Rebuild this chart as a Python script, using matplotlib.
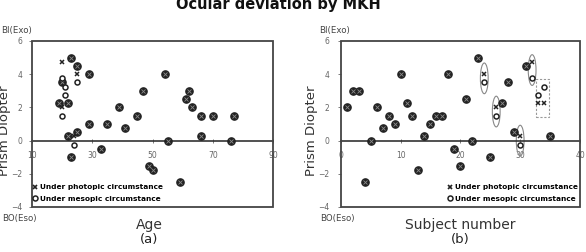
import numpy as np
import matplotlib.pyplot as plt
from matplotlib.lines import Line2D
from matplotlib.patches import Ellipse, Rectangle

# (a) deviation vs age
age_both = [23, 25, 29, 54, 47, 62, 61, 63, 39, 45, 66, 70, 77, 29, 35, 41,
            25, 22, 66, 55, 76, 33, 23, 49, 50, 59, 19, 22, 20]
dev_both_a = [5, 4.5, 4, 4, 3, 3, 2.5, 2, 2, 1.5, 1.5, 1.5, 1.5, 1, 1, 0.75,
              0.5, 0.25, 0.25, 0, 0, -0.5, -1, -1.5, -1.75, -2.5, 2.25, 2.25, 3.5]
age_photo = [20, 25, 20, 24]
photo_a = [4.75, 4, 2, 0.25]
age_meso = [20, 21, 21, 20, 25, 24]
meso_a = [3.75, 3.25, 2.75, 1.5, 3.5, -0.25]

# (b) deviation vs subject number
subj_both = [1, 2, 3, 4, 5, 6, 7, 8, 9, 10, 11, 12, 13, 14, 15, 16, 17, 18,
             19, 20, 21, 22, 23, 25, 27, 28, 29, 31, 35]
dev_both_b = [2, 3, 3, -2.5, 0, 2, 0.75, 1.5, 1, 4, 2.25, 1.5, -1.75, 0.25, 1,
              1.5, 1.5, 4, -0.5, -1.5, 2.5, 0, 5, -1, 2.25, 3.5, 0.5, 4.5, 0.25]
subj_pair = [24, 26, 30, 32, 33, 34]
photo_b = [4, 2, 0.25, 4.75, 2.25, 2.25]
meso_b = [3.5, 1.5, -0.25, 3.75, 2.75, 3.25]
circled = [24, 26, 30, 32]   # subjects marked with an ellipse
boxed = [33, 34]             # subjects inside the dashed box

W, H = 586, 252
fig = plt.figure(figsize=(W / 100, H / 100), dpi=100)

dark = '#222222'
frame = '#444444'
tick_col = '#666666'


def style_axes(ax, xlim, xticks, ypad):
    ax.set_xlim(*xlim)
    ax.set_ylim(-4, 6)
    ax.set_yticks([-4, -2, 0, 2, 4, 6])
    ax.set_xticks(xticks)
    ax.spines['bottom'].set_position(('data', 0))
    ax.spines['top'].set_visible(False)
    ax.spines['right'].set_visible(False)
    ax.spines['left'].set_visible(False)
    ax.spines['bottom'].set_color('#333333')
    ax.spines['bottom'].set_linewidth(1.2)
    ax.add_patch(Rectangle((0, 0), 1, 1, transform=ax.transAxes, fill=False,
                           ec=frame, lw=1.3, clip_on=False, zorder=5))
    ax.tick_params(axis='both', labelsize=5.5, colors=tick_col, width=0.6)
    ax.tick_params(axis='x', direction='inout', length=3, pad=6)
    ax.tick_params(axis='y', direction='out', length=2, pad=ypad)


def draw_points(ax, xb, yb, xp, yp, xm, ym):
    ax.plot(xb, yb, 'o', ms=5.2, color=dark, mec=dark, zorder=3)
    ax.plot(xb, yb, 'x', ms=2.8, color='#8a8a8a', mew=0.6, zorder=4)
    ax.plot(xp, yp, 'x', ms=3.5, color=dark, mew=1.1, zorder=4)
    ax.plot(xm, ym, 'o', ms=3.6, mfc='white', mec=dark, mew=1.1, zorder=4)


handles = [Line2D([], [], marker='x', ls='none', color=dark, ms=3.5, mew=1.2),
           Line2D([], [], marker='o', ls='none', mfc='white', mec=dark, ms=3.6, mew=1.1)]
labels = ['Under photopic circumstance', 'Under mesopic circumstance']
leg_kw = dict(frameon=False, prop={'size': 5.3, 'weight': 'bold'}, handlelength=0.6,
              handletextpad=0.3, labelspacing=0.75, borderpad=0, borderaxespad=0)

# panel (a)
ax1 = fig.add_axes([32 / W, 1 - 207 / H, 241 / W, 166 / H])
style_axes(ax1, (10, 90), [10, 30, 50, 70, 90], 5)
draw_points(ax1, age_both, dev_both_a, age_photo, photo_a, age_meso, meso_a)
ax1.legend(handles, labels, loc='lower left', bbox_to_anchor=(0.004, 0.03), **leg_kw)

# panel (b)
ax2 = fig.add_axes([340.7 / W, 1 - 207 / H, 239.3 / W, 166 / H])
style_axes(ax2, (0, 40), [0, 10, 20, 30, 40], 6)
draw_points(ax2, subj_both, dev_both_b, subj_pair, photo_b, subj_pair, meso_b)
ax2.legend(handles, labels, loc='lower right', bbox_to_anchor=(0.99, 0.03), **leg_kw)

for s, p, m in zip(subj_pair, photo_b, meso_b):
    if s in circled:
        ax2.add_patch(Ellipse((s, (p + m) / 2), 1.3, 1.85, fill=False,
                              ec='#888888', lw=0.8, zorder=2))
ax2.add_patch(Rectangle((min(boxed) - 0.4, 1.4), max(boxed) - min(boxed) + 1.2, 2.3,
                        fill=False, ec='#999999', lw=0.8, ls=(0, (2, 1.5)), zorder=2))

# figure texts
fig.text(278.5 / W, 1 - 9 / H, 'Ocular deviation by MKH', ha='center', va='baseline',
         fontsize=10.5, fontweight='bold', color='#111111')
for xc, yl_x, lab_x, lab, sub in [(16, 5, 149, 'Age', '(a)'),
                                 (334, 312, 460, 'Subject number', '(b)')]:
    fig.text(xc / W, 1 - 30 / H, 'BI(Exo)', ha='center', va='center', fontsize=6.2, color='#444444')
    fig.text(xc / W + 0.005, 1 - 218 / H, 'BO(Eso)', ha='center', va='center', fontsize=6.2, color='#444444')
    fig.text(yl_x / W, 1 - 131 / H, 'Prism Diopter', rotation=90, ha='center', va='center',
             fontsize=9.5, color='#333333')
    fig.text(lab_x / W, 1 - 225 / H, lab, ha='center', va='center', fontsize=10, color='#333333')
    fig.text(lab_x / W, 1 - 240 / H, sub, ha='center', va='center', fontsize=9.5, color='#222222')

fig.savefig('out.png', dpi=100)
